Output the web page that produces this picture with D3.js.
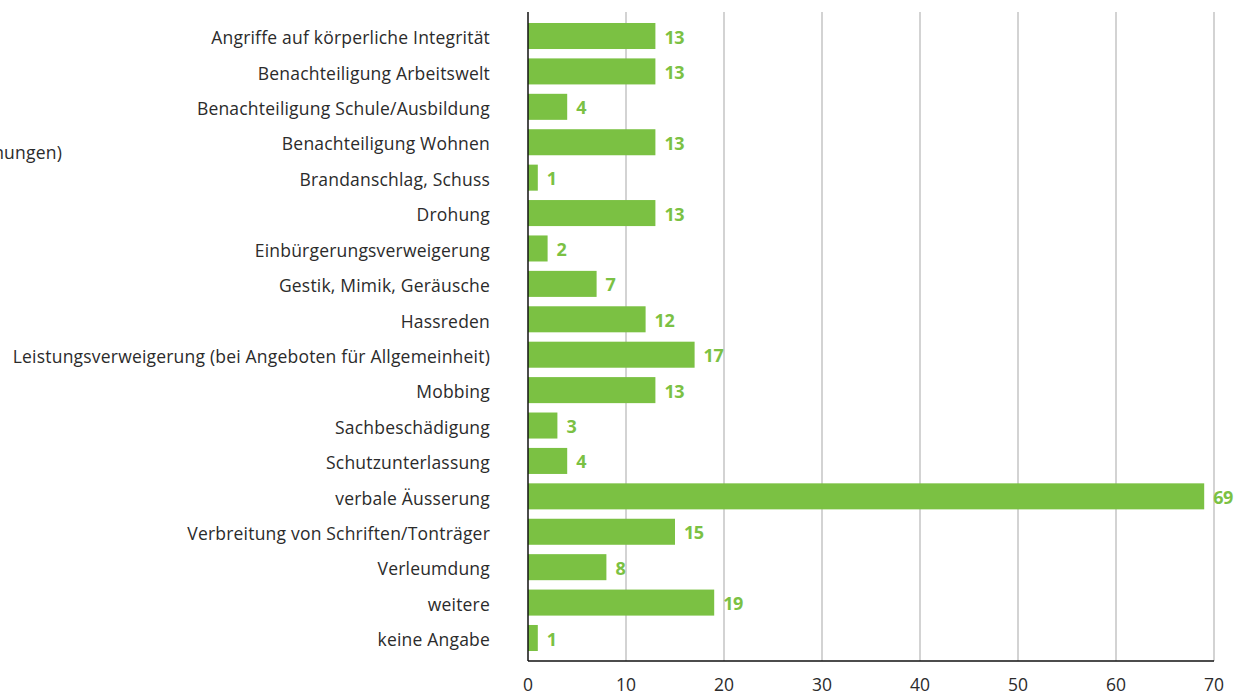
<!DOCTYPE html>
<html>
<head>
<meta charset="utf-8">
<script src="https://cdn.jsdelivr.net/npm/d3@7"></script>
<style>
  body { margin: 0; background: #fff; }
  svg text { font-family: "Open Sans", "Noto Sans", sans-serif; }
</style>
</head>
<body>
<svg id="chart" width="1249" height="695"></svg>
<script>
const categories = [
  "Angriffe auf körperliche Integrität",
  "Benachteiligung Arbeitswelt",
  "Benachteiligung Schule/Ausbildung",
  "Benachteiligung Wohnen",
  "Brandanschlag, Schuss",
  "Drohung",
  "Einbürgerungsverweigerung",
  "Gestik, Mimik, Geräusche",
  "Hassreden",
  "Leistungsverweigerung (bei Angeboten für Allgemeinheit)",
  "Mobbing",
  "Sachbeschädigung",
  "Schutzunterlassung",
  "verbale Äusserung",
  "Verbreitung von Schriften/Tonträger",
  "Verleumdung",
  "weitere",
  "keine Angabe"
];
const counts = [13, 13, 4, 13, 1, 13, 2, 7, 12, 17, 13, 3, 4, 69, 15, 8, 19, 1];
const xTicks = [0, 10, 20, 30, 40, 50, 60, 70];

const svg = d3.select("#chart"),
      plotLeft = 528, plotRight = 1214, plotTop = 12, plotBottom = 661,
      green = "#7bc143",
      textColor = "#2b2b2b";

const x = d3.scaleLinear().domain([0, 70]).range([plotLeft, plotRight]);
const y = d3.scaleBand().domain(categories).range([18.3, 655.7])
  .paddingInner(0.265).paddingOuter(0.1325);

// gridlines
svg.append("g")
  .selectAll("line")
  .data(xTicks.slice(1))
  .enter().append("line")
    .attr("x1", d => x(d)).attr("x2", d => x(d))
    .attr("y1", plotTop).attr("y2", plotBottom)
    .attr("stroke", "#c4c4c4")
    .attr("stroke-width", 1.5);

// bars
svg.selectAll(".bar")
  .data(counts)
  .enter().append("rect")
    .attr("class", "bar")
    .attr("x", x(0))
    .attr("y", (d, i) => y(categories[i]))
    .attr("width", d => x(d) - x(0))
    .attr("height", y.bandwidth())
    .attr("fill", green);

// value labels
svg.selectAll(".val")
  .data(counts)
  .enter().append("text")
    .attr("class", "val")
    .attr("x", d => x(d) + 9)
    .attr("y", (d, i) => y(categories[i]) + y.bandwidth() / 2)
    .attr("dy", "0.42em")
    .style("font-size", "18px")
    .style("font-weight", "bold")
    .style("letter-spacing", "-0.5px")
    .attr("fill", green)
    .text(d => d);

// category labels
svg.selectAll(".cat")
  .data(categories)
  .enter().append("text")
    .attr("class", "cat")
    .attr("x", 490)
    .attr("y", d => y(d) + y.bandwidth() / 2)
    .attr("dy", "0.47em")
    .attr("text-anchor", "end")
    .style("font-size", "17.5px")
    .style("letter-spacing", "0.2px")
    .attr("fill", textColor)
    .text(d => d);

// axes lines
svg.append("line")
  .attr("x1", plotLeft).attr("x2", plotLeft)
  .attr("y1", plotTop).attr("y2", plotBottom)
  .attr("stroke", "#111").attr("stroke-width", 1.5);
svg.append("line")
  .attr("x1", plotLeft).attr("x2", plotRight)
  .attr("y1", plotBottom).attr("y2", plotBottom)
  .attr("stroke", "#111").attr("stroke-width", 1.5);

// x tick labels
svg.selectAll(".tick-label")
  .data(xTicks)
  .enter().append("text")
    .attr("class", "tick-label")
    .attr("x", d => x(d))
    .attr("y", 685)
    .attr("dy", "0.35em")
    .attr("text-anchor", "middle")
    .style("font-size", "17.5px")
    .attr("fill", textColor)
    .text(d => d);

// clipped axis title on the left
svg.append("text")
  .attr("x", 62)
  .attr("y", 153)
  .attr("dy", "0.36em")
  .attr("text-anchor", "end")
  .style("font-size", "17.5px")
  .style("letter-spacing", "0.2px")
  .attr("fill", textColor)
  .text("Anzahl Vorfälle (Mehrfachnennungen)");
</script>
</body>
</html>
